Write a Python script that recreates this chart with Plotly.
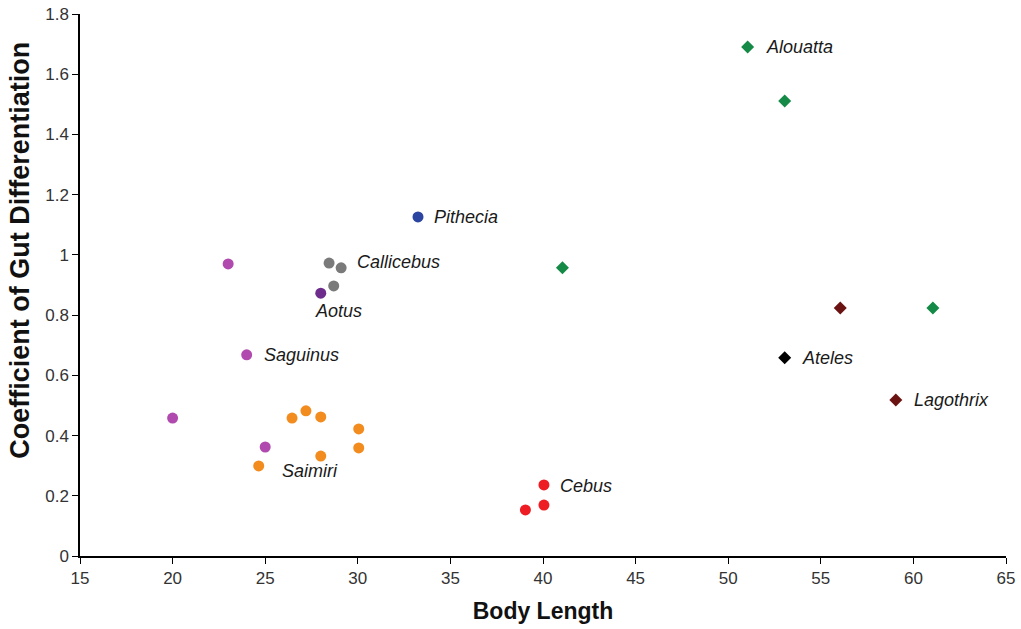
import plotly.graph_objects as go

# Data (Body Length, Coefficient of Gut Differentiation)
saguinus_x = [23.0, 24.0, 20.0, 25.0]
saguinus_y = [0.97, 0.668, 0.458, 0.362]
aotus_x = [28.0]
aotus_y = [0.873]
callicebus_x = [28.45, 29.1, 28.7]
callicebus_y = [0.973, 0.957, 0.897]
pithecia_x = [33.25]
pithecia_y = [1.126]
saimiri_x = [26.45, 27.2, 28.0, 30.05, 30.05, 28.0, 24.65]
saimiri_y = [0.458, 0.482, 0.462, 0.422, 0.359, 0.332, 0.299]
cebus_x = [40.05, 40.05, 39.05]
cebus_y = [0.236, 0.169, 0.153]
alouatta_x = [51.05, 53.05, 41.05, 61.05]
alouatta_y = [1.69, 1.511, 0.957, 0.824]
lagothrix_x = [56.05, 59.05]
lagothrix_y = [0.824, 0.518]
ateles_x = [53.05]
ateles_y = [0.658]

labels = ["Alouatta", "Pithecia", "Callicebus", "Aotus", "Saguinus",
          "Saimiri", "Cebus", "Ateles", "Lagothrix"]
label_x = [51.95, 34.0, 29.85, 28.95, 24.85, 27.4, 40.8, 53.9, 59.9]
label_y = [1.69, 1.126, 0.976, 0.814, 0.668, 0.282, 0.232, 0.658, 0.518]
label_anchor = ["left", "left", "left", "center", "left", "center", "left", "left", "left"]

groups = [
    (saguinus_x, saguinus_y, "#B04AAE", "circle", 11),
    (aotus_x, aotus_y, "#6E2C8C", "circle", 11),
    (callicebus_x, callicebus_y, "#7A7A7A", "circle", 11),
    (pithecia_x, pithecia_y, "#2B45A0", "circle", 11),
    (saimiri_x, saimiri_y, "#F28C1E", "circle", 11),
    (cebus_x, cebus_y, "#EE1D24", "circle", 11),
    (alouatta_x, alouatta_y, "#148A46", "diamond", 10),
    (lagothrix_x, lagothrix_y, "#6B1212", "diamond", 10),
    (ateles_x, ateles_y, "#000000", "diamond", 10),
]

fig = go.Figure()
for gx, gy, col, sym, sz in groups:
    fig.add_trace(go.Scatter(x=gx, y=gy, mode="markers",
                             marker=dict(color=col, symbol=sym, size=sz, line=dict(width=0)),
                             showlegend=False, hoverinfo="x+y"))

for t, lx, ly, anc in zip(labels, label_x, label_y, label_anchor):
    fig.add_annotation(x=lx, y=ly, text="<i>" + t + "</i>", showarrow=False,
                       xanchor=anc, yanchor="middle",
                       font=dict(family="Liberation Sans, Arial, sans-serif", size=18, color="#1a1a1a"))

# y-axis title (placed slightly above centre, as in the original)
fig.add_annotation(xref="paper", yref="paper", x=-0.0648, y=0.565,
                   text="<b>Coefficient of Gut Differentiation</b>", textangle=-90,
                   showarrow=False, xanchor="center", yanchor="middle",
                   font=dict(family="Liberation Sans, Arial, sans-serif", size=27, color="#111111"))

fig.update_layout(
    width=1021, height=629,
    margin=dict(l=80, r=15, t=14, b=73),
    paper_bgcolor="white", plot_bgcolor="white",
    font=dict(family="Liberation Sans, Arial, sans-serif", size=16, color="#333333"),
)
fig.update_xaxes(range=[15, 65], dtick=5, tick0=15, showgrid=False, zeroline=False,
                 automargin=False,
                 showline=True, linecolor="black", linewidth=1.5,
                 ticks="outside", ticklen=6, tickcolor="black", tickwidth=1.2,
                 tickfont=dict(size=17, color="#333333"),
                 title=dict(text="<b>Body Length</b>", standoff=16,
                            font=dict(size=23, color="#111111")))
fig.update_yaxes(range=[0, 1.8], dtick=0.2, tick0=0, showgrid=False, zeroline=False,
                 automargin=False,
                 showline=True, linecolor="black", linewidth=1.5,
                 ticks="outside", ticklen=6, tickcolor="black", tickwidth=1.2,
                 tickfont=dict(size=17, color="#333333"))

fig.write_html("out.html")
